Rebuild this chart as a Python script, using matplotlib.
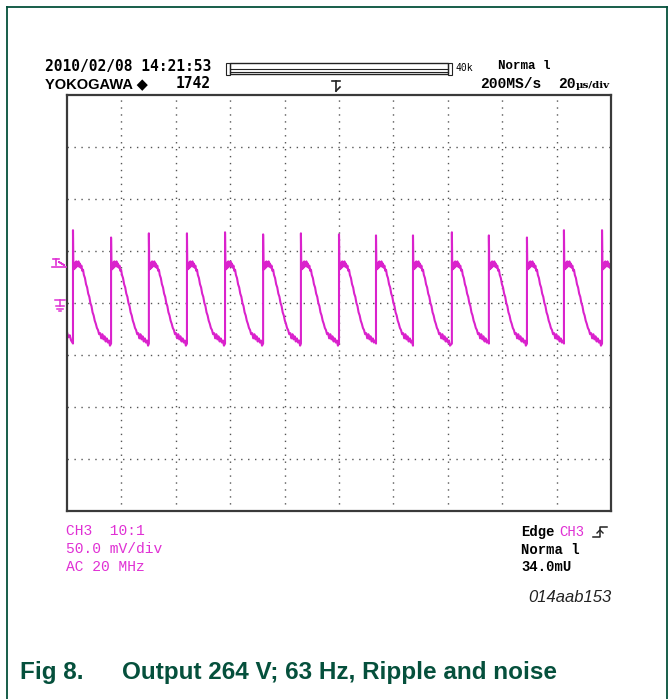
import matplotlib
matplotlib.use("Agg")
import matplotlib.pyplot as plt
from matplotlib.lines import Line2D
from matplotlib.patches import Rectangle

W, H = 670, 699

# spike (switch-on) instants, in microseconds from the left edge of the screen
spike_t = [2.2, 16.2, 30.1, 44.1, 58.1, 72.1, 86.0, 100.0, 113.6, 127.2,
           141.5, 155.1, 169.1, 182.7, 196.7]
# top of each spike, mV
spike_tip = [70, 63, 67, 67, 68, 66, 67, 66, 65, 65, 68, 65, 63, 70, 70]

# one ripple cycle after a spike: time offset (us) and level (mV)
cycle_t = [0.0, 0.0, 0.15, 0.4, 0.6, 0.8, 1.0, 1.2, 1.4, 1.6, 1.8, 2.0, 2.2,
           2.5, 2.8, 3.1, 3.4, 3.7, 4.0, 4.4, 4.8, 5.2, 5.6, 6.0, 6.4, 6.8,
           7.2, 7.6, 8.0, 8.4, 8.8, 9.2, 9.6, 10.0, 10.4, 10.8, 11.2, 11.6,
           12.0, 12.4, 12.8, 13.2, 13.6]
cycle_v = [-39, 66, 32, 38, 33, 39, 34, 40, 35, 39, 36, 40, 35, 38, 34, 36,
           31, 32, 27, 24, 18, 15, 9, 6, 0, -3, -9, -12, -17, -20, -24, -26,
           -30, -29, -34, -30, -35, -32, -37, -34, -38, -36, -41]

# trace before the first spike
lead_t = [0.0, 0.5, 1.0, 1.5, 2.0]
lead_v = [-28, -33, -31, -36, -38]

trace_col = "#da22cc"
text_mag = "#e030d4"
green = "#05503c"


def fx(px):
    return px / W


def fy(py):
    return 1 - py / H


t_all = list(lead_t)
v_all = list(lead_v)
for i, t0 in enumerate(spike_t):
    t_end = spike_t[i + 1] if i + 1 < len(spike_t) else 200.5
    for k, (dt, v) in enumerate(zip(cycle_t, cycle_v)):
        if t0 + dt >= t_end:
            break
        if k == 1:
            v = spike_tip[i]
        t_all.append(t0 + dt)
        v_all.append(v)

fig = plt.figure(figsize=(W / 100, H / 100), dpi=100)
fig.patch.set_facecolor("white")

ax = fig.add_axes([fx(67), fy(511), (611 - 67) / W, (511 - 95) / H])
ax.set_xlim(0, 200)
ax.set_ylim(-200, 200)
for x in range(20, 200, 20):
    ax.axvline(x, color="#555555", lw=1.0, ls=(0, (1, 4)))
for y in range(-150, 200, 50):
    ax.axhline(y, color="#555555", lw=1.0, ls=(0, (1, 4)))
ax.plot(t_all, v_all, color=trace_col, lw=1.5, solid_joinstyle="round")
ax.set_xticks([])
ax.set_yticks([])
for s in ax.spines.values():
    s.set_color("#3a3a3a")
    s.set_linewidth(1.6)

# outer document frame
for xs, ys in [([7, 7], [7, 699]), ([7, 667], [7, 7]), ([667, 667], [7, 699])]:
    fig.add_artist(Line2D([fx(v) for v in xs], [fy(v) for v in ys],
                          color=green, lw=1.3))

mono = "DejaVu Sans Mono"
cour = "Liberation Mono"

# header
fig.text(fx(45), fy(67), "2010/02/08 14:21:53", family=mono, weight="bold",
         fontsize=10.5, va="center", ha="left")
fig.text(fx(45), fy(84), "YOKOGAWA \u25c6", family=["Liberation Sans", "DejaVu Sans"],
         weight="bold", fontsize=10.5, va="center", ha="left")
fig.text(fx(211), fy(84), "1742", family=mono, weight="bold", fontsize=10.5,
         va="center", ha="right")
fig.text(fx(498), fy(66), "Norma l", family=cour, weight="bold",
         fontsize=9, va="center", ha="left")
fig.text(fx(480), fy(84), "200MS/s", family=cour, weight="bold",
         fontsize=10.5, va="center", ha="left")
fig.text(fx(558), fy(84), "20", family=cour, weight="bold",
         fontsize=10.5, va="center", ha="left")
fig.text(fx(576), fy(85), "\u00b5s/div", family=["DejaVu Serif"],
         weight="bold", fontsize=7.5, va="center", ha="left")
fig.text(fx(455), fy(68), "40k", family=mono, fontsize=7, va="center",
         ha="left")

# record length bar
fig.add_artist(Rectangle((fx(230), fy(74)), fx(448 - 230), (74 - 63) / H,
                         fill=False, ec="#222222", lw=1.0))
fig.add_artist(Line2D([fx(230), fx(448)], [fy(68.5), fy(68.5)],
                      color="#222222", lw=0.8))
fig.add_artist(Line2D([fx(230), fx(448)], [fy(71.5), fy(71.5)],
                      color="#222222", lw=0.8))
for x0 in (226, 448):
    fig.add_artist(Rectangle((fx(x0), fy(75)), fx(4), 12 / H, fill=False,
                             ec="#222222", lw=0.8))

# trigger position marker
fig.add_artist(Line2D([fx(332), fx(340)], [fy(81), fy(81)], color="#222222",
                      lw=1.2))
fig.add_artist(Line2D([fx(336), fx(336)], [fy(81), fy(91)], color="#222222",
                      lw=1.2))
fig.add_artist(Line2D([fx(336), fx(340)], [fy(91), fy(87)], color="#222222",
                      lw=1.2))

# trigger level marker (left)
fig.add_artist(Line2D([fx(53), fx(59)], [fy(259), fy(259)], color=text_mag,
                      lw=1.2))
fig.add_artist(Line2D([fx(56), fx(56)], [fy(259), fy(265)], color=text_mag,
                      lw=1.2))
fig.add_artist(Line2D([fx(59), fx(64), fx(64), fx(59)],
                      [fy(262), fy(265), fy(265), fy(262)], color=text_mag,
                      lw=1.2))
fig.add_artist(Line2D([fx(52), fx(66)], [fy(266.5), fy(266.5)],
                      color=text_mag, lw=1.2))

# ground marker (left)
fig.add_artist(Line2D([fx(55), fx(65)], [fy(300), fy(300)], color=text_mag,
                      lw=1.1))
fig.add_artist(Line2D([fx(60), fx(60)], [fy(300), fy(306)], color=text_mag,
                      lw=1.1))
for yy, half in [(306, 4), (308.7, 2.7), (311.2, 1.3)]:
    fig.add_artist(Line2D([fx(60 - half), fx(60 + half)], [fy(yy), fy(yy)],
                          color=text_mag, lw=1.1))

# channel settings
for yy, s in [(531, "CH3  10:1"), (549, "50.0 mV/div"), (567, "AC 20 MHz")]:
    fig.text(fx(66), fy(yy), s, family=cour, color=text_mag, fontsize=10.5,
             va="center", ha="left")

# trigger settings
fig.text(fx(521), fy(532), "Edge", family=cour, weight="bold", fontsize=10,
         va="center", ha="left")
fig.text(fx(559), fy(532), "CH3", family=cour, color=text_mag, fontsize=10,
         va="center", ha="left")
fig.add_artist(Line2D([fx(593), fx(600), fx(600), fx(607)],
                      [fy(537), fy(537), fy(527), fy(527)], color="#222222",
                      lw=1.1))
fig.add_artist(Line2D([fx(597), fx(600), fx(603)],
                      [fy(533), fy(530), fy(533)], color="#222222", lw=1.0))
fig.text(fx(521), fy(550), "Norma l", family=cour, weight="bold", fontsize=10,
         va="center", ha="left")
fig.text(fx(521), fy(567), "34.0mU", family=cour, weight="bold", fontsize=10,
         va="center", ha="left")

fig.text(fx(612), fy(598), "014aab153", family="Liberation Sans",
         style="italic", fontsize=12, color="#222222", va="center",
         ha="right")

# caption
fig.text(fx(20), fy(673), "Fig 8.", family="Liberation Sans", weight="bold",
         fontsize=17.5, color=green, va="center", ha="left")
fig.text(fx(122), fy(673), "Output 264 V; 63 Hz, Ripple and noise",
         family="Liberation Sans", weight="bold", fontsize=17.5, color=green,
         va="center", ha="left")

fig.savefig("out.png", dpi=100, facecolor="white")
